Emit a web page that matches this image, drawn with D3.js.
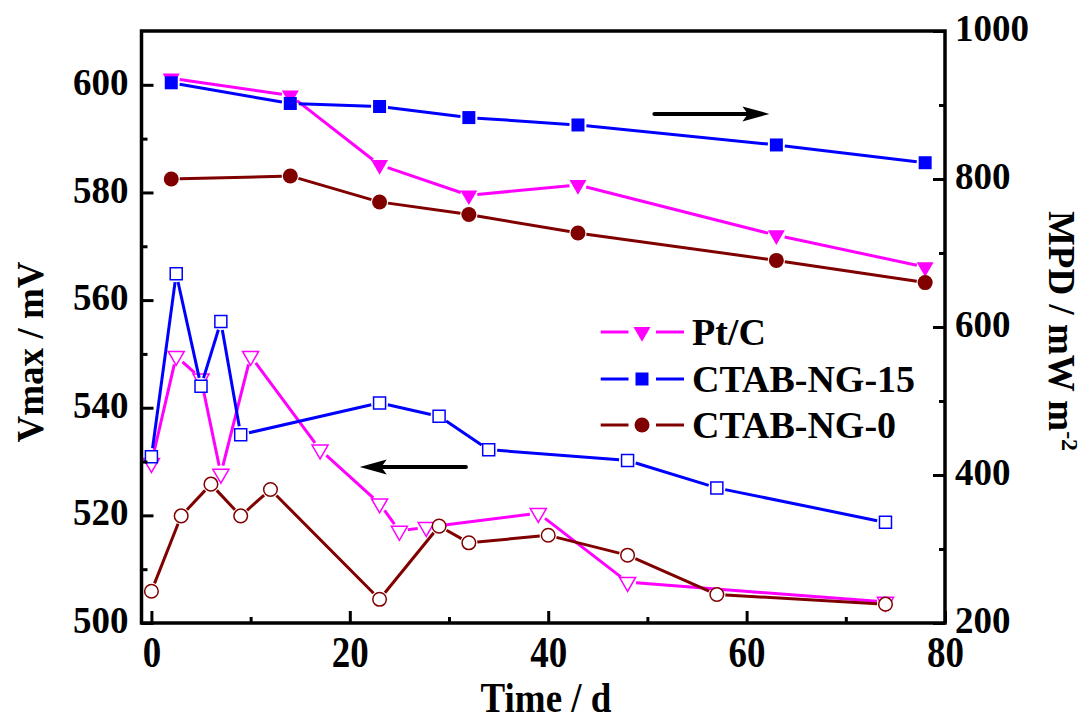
<!DOCTYPE html>
<meta charset="utf-8">
<script src="https://d3js.org/d3.v7.min.js"></script>
<style>
  body { margin: 0; background: #fff; }
  text { font-family: "Liberation Serif", "Times New Roman", serif; font-weight: bold; fill: #000; }
</style>
<div id="chart"></div>
<script>
// series names + colours
var seriesNames = ["Pt/C", "CTAB-NG-15", "CTAB-NG-0"];
var seriesColors = ["#ff00ff", "#0000ff", "#800000"];
var seriesShapes = ["tri", "square", "circle"];

// open symbols : Vmax (left axis)
var timePt = [0, 2.5, 5, 7, 10, 17, 23, 25, 27.7, 39, 48, 74];
var vmaxPt = [529.7, 549.6, 545.4, 527.7, 549.6, 532.2, 522.2, 517.1, 517.8, 520.4, 507.6, 503.9];
var time15 = [0, 2.5, 5, 7, 9, 23, 29, 34, 48, 57, 74];
var vmax15 = [530.9, 564.9, 544, 556, 535, 540.9, 538.4, 532.2, 530.2, 525.1, 518.7];
var time0 = [0, 3, 6, 9, 12, 23, 29, 32, 40, 48, 57, 74];
var vmax0 = [505.9, 519.9, 525.8, 519.9, 524.8, 504.4, 518.0, 514.9, 516.3, 512.6, 505.3, 503.5];

// filled symbols : MPD (right axis)
var timeMpd = [2, 14, 23, 32, 43, 63, 78];
var mpdPt = [936, 913, 819, 778, 792, 724, 681];
var mpd15 = [930, 902, 898, 883, 873, 846, 822];
var mpd0 = [800, 804, 769, 752, 727, 690, 660];

// tick values
var xTicks = [0, 20, 40, 60, 80], xMinor = [10, 30, 50, 70];
var yLeftTicks = [500, 520, 540, 560, 580, 600], yLeftMinor = [510, 530, 550, 570, 590];
var yRightTicks = [200, 400, 600, 800, 1000], yRightMinor = [300, 500, 700, 900];

// arrows (data coords): [x1, x2, y]
var arrowLeft = [31.7, 21, 529];
var arrowRight = [50.7, 62.3, 888];

var W = 1091, H = 722;
var L = 141.5, R = 945, T = 31, B = 623;

var svg = d3.select("#chart").append("svg")
  .attr("width", W).attr("height", H);

var x = d3.scaleLinear().domain([-1, 80]).range([L, R]);
var yL = d3.scaleLinear().domain([500, 610]).range([B, T]);
var yR = d3.scaleLinear().domain([200, 1000]).range([B, T]);

function symbolPath(shape, size) {
  if (shape == "tri") return d3.symbol().type(d3.symbolTriangle).size(size)();
  if (shape == "square") return d3.symbol().type(d3.symbolSquare).size(size)();
  return d3.symbol().type(d3.symbolCircle).size(size)();
}

// line pieces with gaps at each marker
function drawSeries(parent, xs, ys, yScale, color, shape, filled) {
  var g = parent.append("g");
  var pts = xs.map(function(t, i) { return [x(t), yScale(ys[i])]; });
  var gap = 8.5;
  for (var i = 0; i < pts.length - 1; i++) {
    var a = pts[i], b = pts[i + 1];
    var dx = b[0] - a[0], dy = b[1] - a[1];
    var len = Math.sqrt(dx * dx + dy * dy);
    if (len <= 2 * gap) continue;
    var ux = dx / len, uy = dy / len;
    g.append("line")
      .attr("x1", a[0] + ux * gap).attr("y1", a[1] + uy * gap)
      .attr("x2", b[0] - ux * gap).attr("y2", b[1] - uy * gap)
      .attr("stroke", color).attr("stroke-width", 3);
  }
  var size;
  if (filled) size = shape == "tri" ? 125 : shape == "square" ? 169 : 177;
  else size = shape == "tri" ? 112 : shape == "square" ? 144 : 145;
  g.selectAll("path.m").data(pts).enter().append("path")
    .attr("class", "m")
    .attr("d", symbolPath(shape, size))
    .attr("transform", function(p) {
      return "translate(" + p[0] + "," + p[1] + ")" + (shape == "tri" ? " rotate(180)" : "");
    })
    .attr("fill", filled ? color : "#fff")
    .attr("stroke", filled ? "none" : color)
    .attr("stroke-width", 1.5);
}

var plot = svg.append("g");
drawSeries(plot, timePt, vmaxPt, yL, seriesColors[0], "tri", false);
drawSeries(plot, time15, vmax15, yL, seriesColors[1], "square", false);
drawSeries(plot, time0, vmax0, yL, seriesColors[2], "circle", false);
drawSeries(plot, timeMpd, mpdPt, yR, seriesColors[0], "tri", true);
drawSeries(plot, timeMpd, mpd15, yR, seriesColors[1], "square", true);
drawSeries(plot, timeMpd, mpd0, yR, seriesColors[2], "circle", true);

// arrows
function arrow(x1, x2, yy) {
  var dir = x2 > x1 ? 1 : -1;
  var hl = 27, hw = 7.5;
  svg.append("line")
    .attr("x1", x1).attr("y1", yy).attr("x2", x2 - dir * hl * 0.6).attr("y2", yy)
    .attr("stroke", "#000").attr("stroke-width", 4).attr("stroke-linecap", "round");
  svg.append("path")
    .attr("d", "M" + x2 + "," + yy + "L" + (x2 - dir * hl) + "," + (yy - hw) +
      "L" + (x2 - dir * hl * 0.8) + "," + yy + "L" + (x2 - dir * hl) + "," + (yy + hw) + "Z")
    .attr("fill", "#000");
}
arrow(x(arrowLeft[0]), x(arrowLeft[1]), yL(arrowLeft[2]));
arrow(x(arrowRight[0]), x(arrowRight[1]), yR(arrowRight[2]));

// axes
var fs = 37;
var gx = svg.append("g").attr("transform", "translate(0," + B + ")")
  .call(d3.axisBottom(x).tickValues(xTicks).tickSize(-12).tickFormat(d3.format("d")));
gx.selectAll("text").attr("y", 0).attr("dy", 0)
  .attr("transform", "translate(0,44) scale(1,1.18)");
svg.append("g").attr("transform", "translate(0," + B + ")")
  .call(d3.axisBottom(x).tickValues(xMinor).tickSize(-6).tickFormat(""));

var gl = svg.append("g").attr("transform", "translate(" + L + ",0)")
  .call(d3.axisLeft(yL).tickValues(yLeftTicks).tickSize(-12).tickPadding(13).tickFormat(d3.format("d")));
gl.selectAll("text").attr("dy", "0.26em");
svg.append("g").attr("transform", "translate(" + L + ",0)")
  .call(d3.axisLeft(yL).tickValues(yLeftMinor).tickSize(-6).tickFormat(""));

var gr = svg.append("g").attr("transform", "translate(" + R + ",0)")
  .call(d3.axisRight(yR).tickValues(yRightTicks).tickSize(-12).tickPadding(10).tickFormat(d3.format("d")));
gr.selectAll("text").attr("dy", "0.26em");
svg.append("g").attr("transform", "translate(" + R + ",0)")
  .call(d3.axisRight(yR).tickValues(yRightMinor).tickSize(-6).tickFormat(""));

svg.selectAll(".domain").remove();
svg.selectAll(".tick line").attr("stroke", "#000").attr("stroke-width", 3);
svg.selectAll(".tick text").style("font-size", fs + "px")
  .style("font-family", "'Liberation Serif', serif").style("font-weight", "bold").attr("fill", "#000");

// frame
svg.append("rect").attr("x", L).attr("y", T).attr("width", R - L).attr("height", B - T)
  .attr("fill", "none").attr("stroke", "#000").attr("stroke-width", 3.5);

// titles
svg.append("text").attr("transform", "translate(546,712) scale(1,1.15)")
  .attr("text-anchor", "middle").style("font-size", fs + "px").text("Time / d");
svg.append("text").attr("transform", "translate(43,352) rotate(-90)")
  .attr("text-anchor", "middle").style("font-size", fs + "px").text("Vmax / mV");
var rt = svg.append("text").attr("transform", "translate(1049,331) rotate(90)")
  .attr("text-anchor", "middle").style("font-size", fs + "px");
rt.append("tspan").text("MPD / mW m");
rt.append("tspan").attr("dy", "-0.55em").style("font-size", "24px").text("-2");

// legend
var legY = [332, 379, 425];
var leg = svg.append("g");
seriesNames.forEach(function(name, i) {
  var yy = legY[i], c = seriesColors[i];
  leg.append("line").attr("x1", 600.7).attr("x2", 628.5).attr("y1", yy).attr("y2", yy)
    .attr("stroke", c).attr("stroke-width", 3);
  leg.append("line").attr("x1", 656).attr("x2", 684).attr("y1", yy).attr("y2", yy)
    .attr("stroke", c).attr("stroke-width", 3);
  var sh = seriesShapes[i];
  leg.append("path")
    .attr("d", symbolPath(sh, sh == "tri" ? 125 : sh == "square" ? 169 : 177))
    .attr("transform", "translate(642," + yy + ")" + (sh == "tri" ? " rotate(180)" : ""))
    .attr("fill", c);
  leg.append("text").attr("x", 692).attr("y", yy + 13)
    .style("font-size", "38px").text(name);
});
</script>
